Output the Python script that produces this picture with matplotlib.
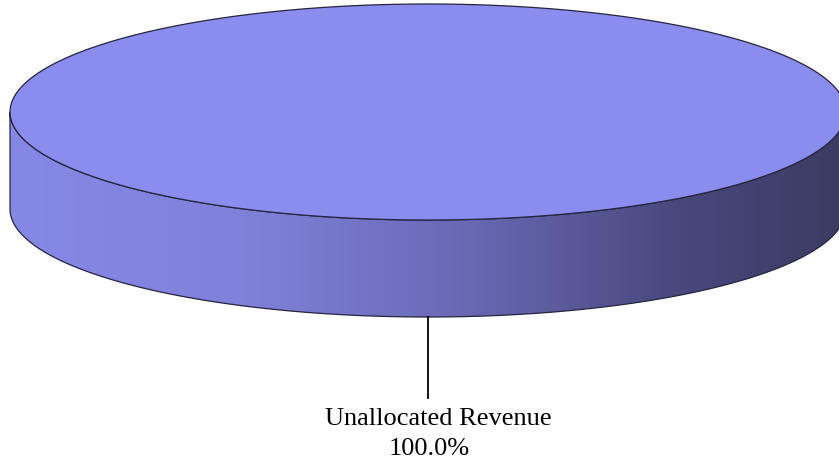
import matplotlib.pyplot as plt
import numpy as np
from matplotlib.colors import LinearSegmentedColormap
from matplotlib.patches import Polygon

labels = ['Unallocated Revenue']
values = [100.0]

top_color = '#8a8cee'
edge_color = '#25253f'
side_cmap = LinearSegmentedColormap.from_list('side', [
    (0.0, '#8688e6'),
    (0.3, '#7e80d8'),
    (0.55, '#6868b4'),
    (0.8, '#48487e'),
    (1.0, '#3b3b62'),
])

# pie geometry in pixel units (right edge runs past the figure)
cx, cy = 428, 113
rx, ry = 418, 108
depth = 97

fig = plt.figure(figsize=(8.39, 4.60), dpi=100)
ax = fig.add_axes([0, 0, 1, 1])


def arc(t0, t1, dy=0, n=300):
    t = np.radians(np.linspace(t0, t1, n))
    return np.column_stack([cx + rx * np.cos(t), cy - ry * np.sin(t) + dy])


total = sum(values)
start = 90.0
for lab, v in zip(labels, values):
    sweep = 360.0 * v / total
    t0, t1 = start - sweep, start

    # visible front side wall (angles between 180 and 360)
    a0 = max(t0, -180.0)
    a1 = min(t1, 0.0)
    if a1 > a0:
        upper = arc(a0, a1)
        lower = arc(a1, a0, depth)
        side = Polygon(np.vstack([upper, lower]), closed=True,
                       facecolor='none', edgecolor=edge_color, lw=0.9, zorder=3)
        ax.add_patch(side)
        grad = np.linspace(0, 1, 512).reshape(1, -1)
        im = ax.imshow(grad, cmap=side_cmap, aspect='auto',
                       extent=[cx - rx, cx + rx, cy + ry + depth, cy - ry],
                       zorder=2)
        im.set_clip_path(side)

    # top face
    pts = arc(t0, t1)
    if sweep < 360:
        pts = np.vstack([[cx, cy], pts])
    ax.add_patch(Polygon(pts, closed=True, facecolor=top_color,
                         edgecolor=edge_color, lw=0.9, zorder=4))

    # label with leader line
    mid = np.radians((t0 + t1) / 2)
    lx = cx + rx * np.cos(mid)
    ly = cy - ry * np.sin(mid) + depth
    ax.plot([lx, lx], [ly, ly + 81], color='black', lw=1.3, zorder=5)
    ax.text(lx + 10, ly + 107, lab, ha='center', va='baseline',
            fontsize=19, family='Liberation Serif')
    ax.text(lx + 1, ly + 137, f'{v / total * 100:.1f}%', ha='center', va='baseline',
            fontsize=19, family='Liberation Serif')
    start -= sweep

ax.set_xlim(0, 839)
ax.set_ylim(460, 0)
ax.axis('off')
fig.savefig('out.png', dpi=100)
